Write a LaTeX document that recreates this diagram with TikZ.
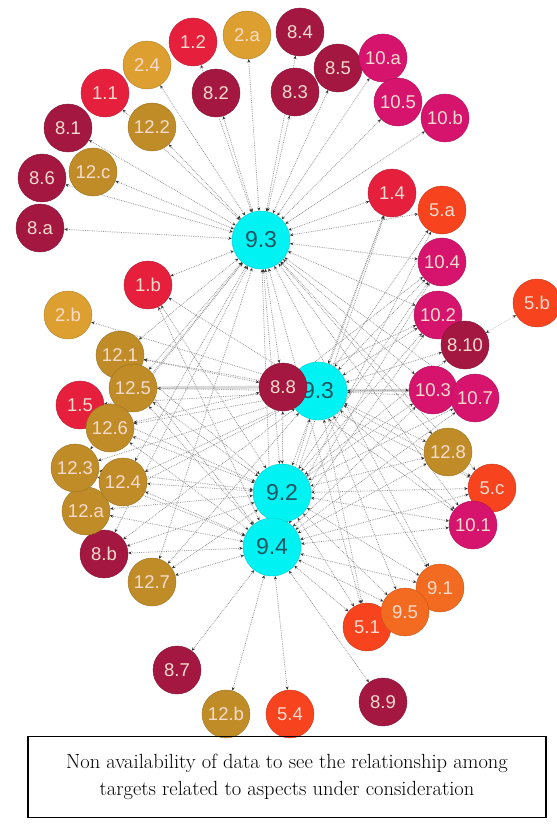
\documentclass[tikz,border=0pt]{standalone}
\usepackage{fontspec}
\newfontfamily\lblfont{Liberation Sans}
\usetikzlibrary{arrows.meta,backgrounds}

\definecolor{goalone}{HTML}{E6203C}
\definecolor{goaltwo}{HTML}{DDA030}
\definecolor{goalfive}{HTML}{F8441E}
\definecolor{goaleight}{HTML}{A31741}
\definecolor{goalnine}{HTML}{F36B20}
\definecolor{goalten}{HTML}{D6146E}
\definecolor{goaltwelve}{HTML}{C08C28}
\definecolor{hubcyan}{HTML}{00F2F2}
\definecolor{lbltext}{HTML}{F6DCCF}
\definecolor{hubtext}{HTML}{1F5563}

\begin{document}
\begin{tikzpicture}[
    x=1pt, y=-1pt,
    leaf/.style={circle, minimum size=48pt, inner sep=0pt, text=lbltext,
      font=\lblfont\fontsize{18.5}{18.5}\selectfont},
    hub/.style={circle, fill=hubcyan, draw=hubcyan!85!black, minimum size=58pt,
      inner sep=0pt, text=hubtext, font=\lblfont\fontsize{23}{23}\selectfont},
    link/.style={densely dotted, gray!80, line width=0.8pt,
      {Stealth[length=3.5pt,width=3pt,color=black!80]}-{Stealth[length=3.5pt,width=3pt,color=black!80]}},
    band/.style={gray!30, line width=3pt},
    capbox/.style={draw, line width=1.2pt, minimum width=518pt, minimum height=81pt,
      align=center, font=\fontsize{20.5}{27}\selectfont}
  ]
  \useasboundingbox (0,0) rectangle (557,825);

  % targets round the hubs
  \foreach \n/\t/\x/\y/\c in {
      n8a/8.a/40/228/goaleight, n86/8.6/42/178/goaleight,
      n12c/12.c/93/172/goaltwelve, n81/8.1/68/128/goaleight,
      n11/1.1/105/93/goalone, n122/12.2/152/127/goaltwelve,
      n24/2.4/147/65/goaltwo, n12/1.2/193/42/goalone,
      n82/8.2/216/93/goaleight, n2a/2.a/247/35/goaltwo,
      n84/8.4/300/32/goaleight, n83/8.3/295/92/goaleight,
      n85/8.5/338/68/goaleight, n10a/10.a/383/58/goalten,
      n105/10.5/398/102/goalten, n10b/10.b/445/118/goalten,
      n14/1.4/392/193/goalone, n5a/5.a/442/210/goalfive,
      n104/10.4/442/262/goalten, n5b/5.b/537/303/goalfive,
      n102/10.2/438/315/goalten, n810/8.10/465/345/goaleight,
      n103/10.3/433/390/goalten, n107/10.7/475/398/goalten,
      n128/12.8/448/452/goaltwelve, n5c/5.c/492/488/goalfive,
      n101/10.1/473/525/goalten, n51/5.1/367/627/goalfive,
      n91/9.1/440/588/goalnine, n95/9.5/405/612/goalnine,
      n89/8.9/383/702/goaleight, n54/5.4/290/714/goalfive,
      n12b/12.b/226/714/goaltwelve, n87/8.7/177/670/goaleight,
      n127/12.7/152/582/goaltwelve, n8b/8.b/104/554/goaleight,
      n12a/12.a/86/511/goaltwelve, n123/12.3/75/468/goaltwelve,
      n124/12.4/123/482/goaltwelve, n15/1.5/80/405/goalone,
      n121/12.1/120/355/goaltwelve, n125/12.5/133/388/goaltwelve,
      n126/12.6/110/428/goaltwelve, n2b/2.b/68/315/goaltwo,
      n1b/1.b/148/285/goalone}
    \node (\n) [leaf, fill=\c, draw=\c!80!black] at (\x,\y) {\t};

  % the goal 9 hubs
  \node (n93) [hub] at (261,240) {9.3};
  \node (nx3) [hub] at (318,391) {9.3};
  \node (n88) [leaf, fill=goaleight, draw=goaleight!80!black] at (283,387) {8.8};
  \node (n92) [hub] at (282,493) {9.2};
  \node (n94) [hub] at (272,547) {9.4};

  \begin{pgfonlayer}{background}
    \draw[band] (nx3) -- (n103);
    \draw[band] (n88) -- (n125);
    \foreach \t in {n8a,n86,n12c,n81,n11,n122,n24,n12,n82,n2a,n84,n83,n85,
        n10a,n105,n10b,n14,n5a,n104,n102,n1b,n121,n125,n126,n123,n124,n8b,
        n127,n92,n94,n88,n103,n107,n128,n5c,n101,n91,n51}
      \draw[link] (n93) -- (\t);
    \foreach \t in {n14,n5a,n104,n102,n810,n103,n107,n128,n5c,n101,n91,n95,
        n51,n1b,n2b,n121,n125,n126,n15,n123,n124,n12a,n8b,n127,n94}
      \draw[link] (nx3) -- (\t);
    \foreach \t in {n104,n102,n810,n103,n107,n128,n5c,n101,n91,n95,n51,n121,
        n125,n126,n15,n123,n124,n12a,n8b,n127,n88,n1b,n14}
      \draw[link] (n92) -- (\t);
    \foreach \t in {n87,n12b,n54,n89,n51,n95,n91,n101,n5c,n128,n107,n103,
        n102,n104,n127,n8b,n12a,n124,n123,n126,n125,n121,n1b,n5a,n14}
      \draw[link] (n94) -- (\t);
    \foreach \t in {n121,n126,n102,n104,n101,n5c}
      \draw[link] (n88) -- (\t);
    \draw[link, gray!40] (n5b) -- (n810);
  \end{pgfonlayer}

  \node (caption) [capbox] at (287,777) {Non availability of data to see the relationship among\\
    targets related to aspects under consideration};
\end{tikzpicture}
\end{document}
